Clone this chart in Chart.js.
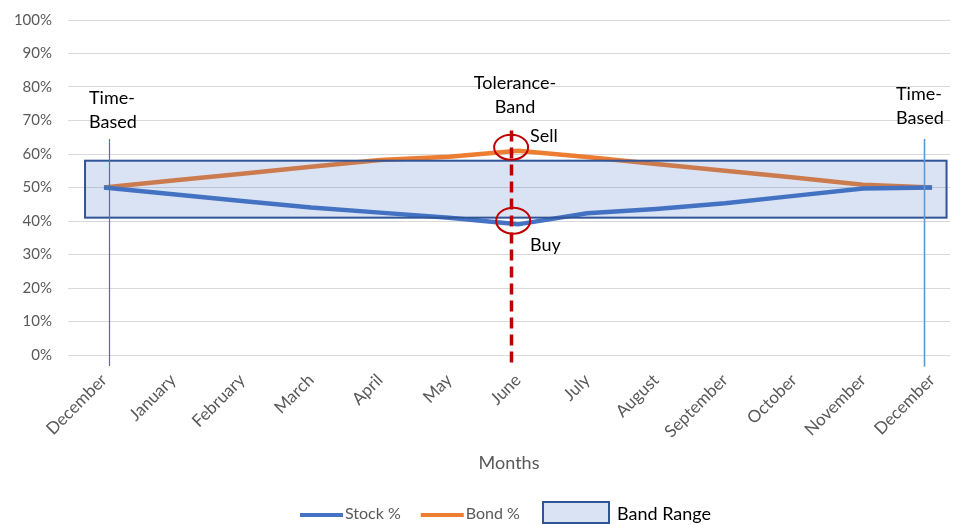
<!DOCTYPE html>
<html><head><meta charset="utf-8">
<script src="https://cdn.jsdelivr.net/npm/chart.js@4.4.1/dist/chart.umd.min.js"></script>
<style>html,body{margin:0;padding:0;background:#fff}</style>
</head><body>
<canvas id="c" width="954" height="525"></canvas>
<script>
// ---- data ----
const months = ['December','January','February','March','April','May','June','July','August','September','October','November','December'];
const stockPct = [50, 48, 46, 44, 42.5, 41, 39, 42.3, 43.6, 45.3, 47.5, 49.7, 50];
const bondPct  = [50, 52.1, 54.1, 56.2, 58.2, 59.2, 61, 59.1, 57, 55, 53, 50.8, 50];
const bandRange = [41, 58];
const yTicks = [0,10,20,30,40,50,60,70,80,90,100];
const seriesNames = ['Stock %', 'Bond %', 'Band Range'];

// ---- annotation settings (positions in scale units) ----
const FONT = 'Lato, "Open Sans", sans-serif';
const bandSpan = [-0.275, 12.21];
const vLines = [
  {x: 0.07, y0: 64.5, y1: -3.3, color: '#4472C4', width: 1.2, dash: []},
  {x: 11.88, y0: 64.5, y1: -3.5, color: '#5B9BD5', width: 1.6, dash: []},
  {x: 5.9, y0: 67, y1: -3, color: '#C00000', width: 3.5, dash: [11, 6]}
];
const circles = [ {x: 5.9, y: 62, rx: 17, ry: 12.5}, {x: 5.93, y: 40.1, rx: 17, ry: 13} ];
const notes = [
  {lines: ['Time-', 'Based'], x: 89, y: 98, align: 'left'},
  {lines: ['Time-', 'Based'], x: 896, y: 94, align: 'left'},
  {lines: ['Tolerance-', 'Band'], x: 515, y: 83, align: 'center'},
  {lines: ['Sell'], x: 530, y: 136, align: 'left'},
  {lines: ['Buy'], x: 530, y: 245, align: 'left'}
];

const overlay = {
  id: 'overlay',
  afterDatasetsDraw(chart) {
    const xs = chart.scales.x, ys = chart.scales.y, c = chart.ctx;
    c.save();
    const bx0 = xs.getPixelForValue(bandSpan[0]), bx1 = xs.getPixelForValue(bandSpan[1]);
    const by0 = ys.getPixelForValue(bandRange[1]), by1 = ys.getPixelForValue(bandRange[0]);
    c.fillStyle = 'rgba(68,114,196,0.2)';
    c.fillRect(bx0, by0, bx1 - bx0, by1 - by0);
    c.strokeStyle = '#2F5597'; c.lineWidth = 2;
    c.strokeRect(bx0, by0, bx1 - bx0, by1 - by0);
    vLines.forEach(l => {
      const px = Math.round(xs.getPixelForValue(l.x)) + 0.5;
      c.beginPath();
      c.setLineDash(l.dash);
      c.strokeStyle = l.color; c.lineWidth = l.width;
      c.moveTo(px, ys.getPixelForValue(l.y0));
      c.lineTo(px, ys.getPixelForValue(l.y1));
      c.stroke();
    });
    c.setLineDash([]);
    circles.forEach(o => {
      c.beginPath();
      c.strokeStyle = '#C00000'; c.lineWidth = 2;
      c.ellipse(xs.getPixelForValue(o.x), ys.getPixelForValue(o.y), o.rx, o.ry, 0, 0, Math.PI * 2);
      c.stroke();
    });
    c.fillStyle = '#000'; c.font = '18px ' + FONT; c.textBaseline = 'middle';
    notes.forEach(n => {
      c.textAlign = n.align;
      n.lines.forEach((t, i) => c.fillText(t, n.x, n.y + i * 24));
    });
    c.restore();
  },
  afterDraw(chart) {
    const c = chart.ctx;
    c.save();
    c.textBaseline = 'middle'; c.textAlign = 'left';
    const y = 514;
    let x = 300;
    const ds = chart.data.datasets;
    for (let i = 0; i < 2; i++) {
      c.strokeStyle = ds[i].borderColor; c.lineWidth = 4; c.lineCap = 'butt';
      c.beginPath(); c.moveTo(x, y + 1); c.lineTo(x + 43, y + 1); c.stroke();
      x += 45;
      c.font = '16px ' + FONT; c.fillStyle = '#595959';
      c.fillText(ds[i].label, x, y);
      x += c.measureText(ds[i].label).width + 20;
    }
    x = 543;
    c.fillStyle = 'rgba(68,114,196,0.2)';
    c.fillRect(x, 502, 66, 21);
    c.strokeStyle = '#2F5597'; c.lineWidth = 2;
    c.strokeRect(x, 502, 66, 21);
    c.font = '18px ' + FONT; c.fillStyle = '#000';
    c.fillText(seriesNames[2], 617, y);
    c.restore();
  }
};

new Chart(document.getElementById('c').getContext('2d'), {
  type: 'line',
  data: {
    datasets: [
      {label: seriesNames[0], data: stockPct.map((v, i) => ({x: i, y: v})), borderColor: '#4472C4', borderWidth: 4.5, pointRadius: 0, tension: 0, fill: false},
      {label: seriesNames[1], data: bondPct.map((v, i) => ({x: i, y: v})), borderColor: '#ED7D31', borderWidth: 4.5, pointRadius: 0, tension: 0, fill: false}
    ]
  },
  options: {
    responsive: false, animation: false, devicePixelRatio: 1,
    layout: {padding: {left: 0, top: 20, right: 4, bottom: 0}},
    plugins: {legend: {display: false}, tooltip: {enabled: false}},
    scales: {
      x: {
        type: 'linear', min: -0.5217, max: 12.26,
        afterBuildTicks: s => { s.ticks = months.map((m, i) => ({value: i})); },
        afterFit: s => { s.height = 170; },
        grid: {display: false}, border: {display: false},
        ticks: {autoSkip: false, minRotation: 45, maxRotation: 45, padding: 7, color: '#595959',
                font: {family: FONT, size: 17}, callback: v => months[v]},
        title: {display: true, text: 'Months', color: '#595959', font: {family: FONT, size: 18}, padding: {top: 0, bottom: 51}}
      },
      y: {
        min: 0, max: 100,
        afterBuildTicks: s => { s.ticks = yTicks.map(v => ({value: v})); },
        afterFit: s => { s.width = 68; },
        grid: {color: '#D9D9D9', drawTicks: true, tickLength: 16, tickColor: 'rgba(0,0,0,0)'}, border: {display: false},
        ticks: {padding: 0, color: '#595959', font: {family: FONT, size: 15}, callback: v => v + '%'}
      }
    }
  },
  plugins: [overlay]
});
</script>
</body></html>
